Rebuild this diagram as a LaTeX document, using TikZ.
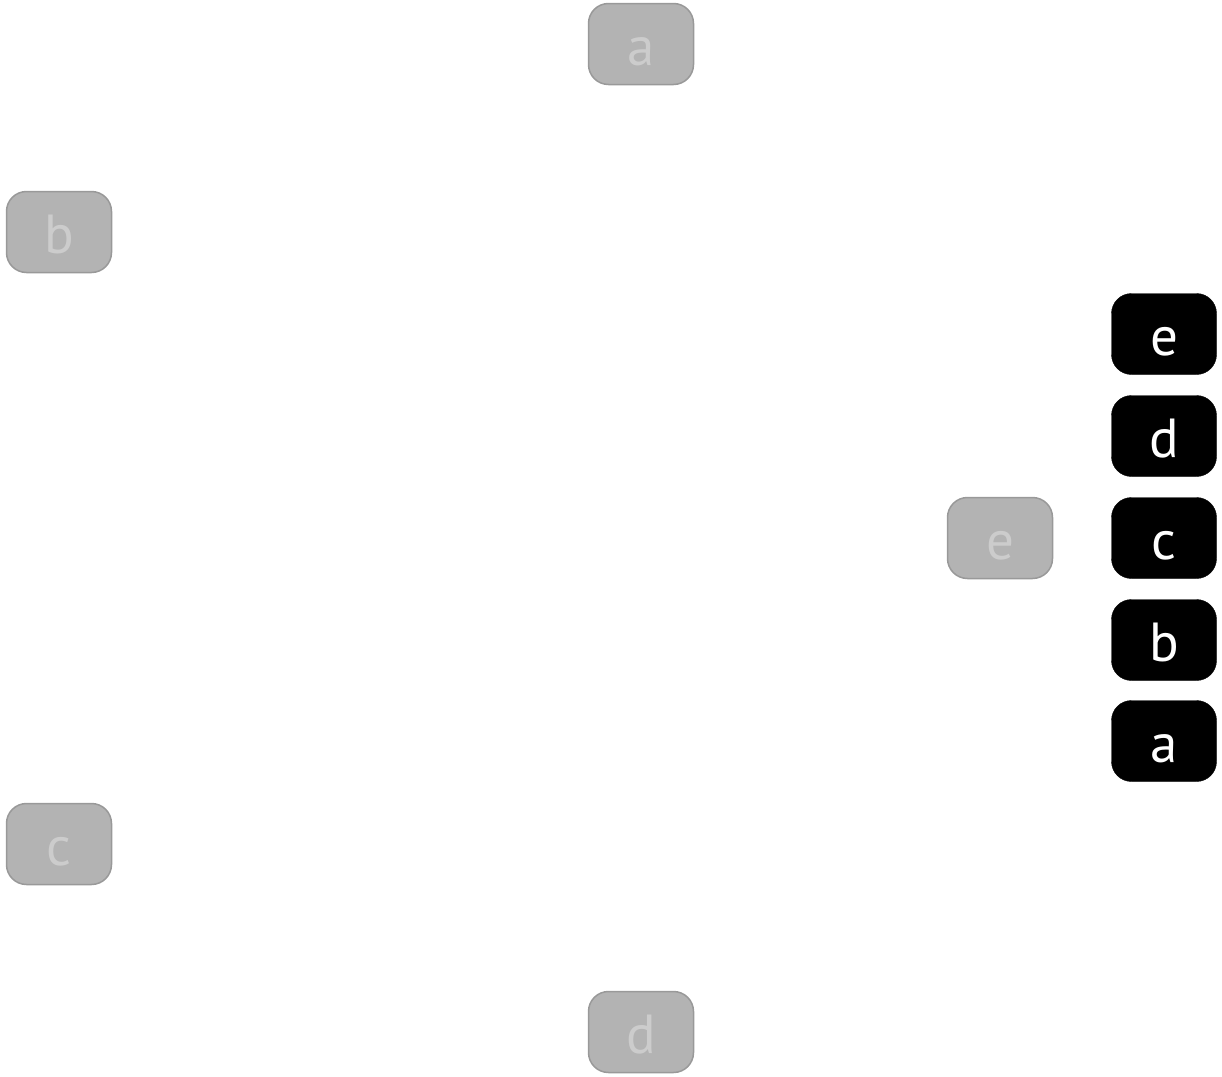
\documentclass[tikz,border=0pt]{standalone}
\usepackage{fontspec}
\setmainfont{PT Sans}
\definecolor{grayfill}{HTML}{B3B3B3}
\definecolor{grayedge}{HTML}{999999}
\definecolor{graytext}{HTML}{CCCCCC}
\tikzset{
  box/.style={rounded corners=20pt, minimum width=105pt, minimum height=81pt, inner sep=0pt,
    text height=42pt, text depth=0pt,
    font=\fontsize{55}{55}\selectfont, anchor=center},
  ghost/.style={box, fill=grayfill, draw=grayedge, line width=1.5pt, text=graytext},
  solid/.style={box, fill=black, draw=black, text=white},
}
\begin{document}
\begin{tikzpicture}[x=1pt,y=-1pt]
\useasboundingbox (0,0) rectangle (1222,1076);
\node[ghost] (ga) at (641,44) {a};
\node[ghost] (gb) at (59,232) {b};
\node[ghost] (gc) at (59,844) {c};
\node[ghost] (gd) at (641,1032) {d};
\node[ghost] (ge) at (1000,538) {e};
\node[solid] (be) at (1164,334) {e};
\node[solid] (bd) at (1164,436) {d};
\node[solid] (bc) at (1164,538) {c};
\node[solid] (bb) at (1164,640) {b};
\node[solid] (ba) at (1164,741) {a};
\end{tikzpicture}
\end{document}
